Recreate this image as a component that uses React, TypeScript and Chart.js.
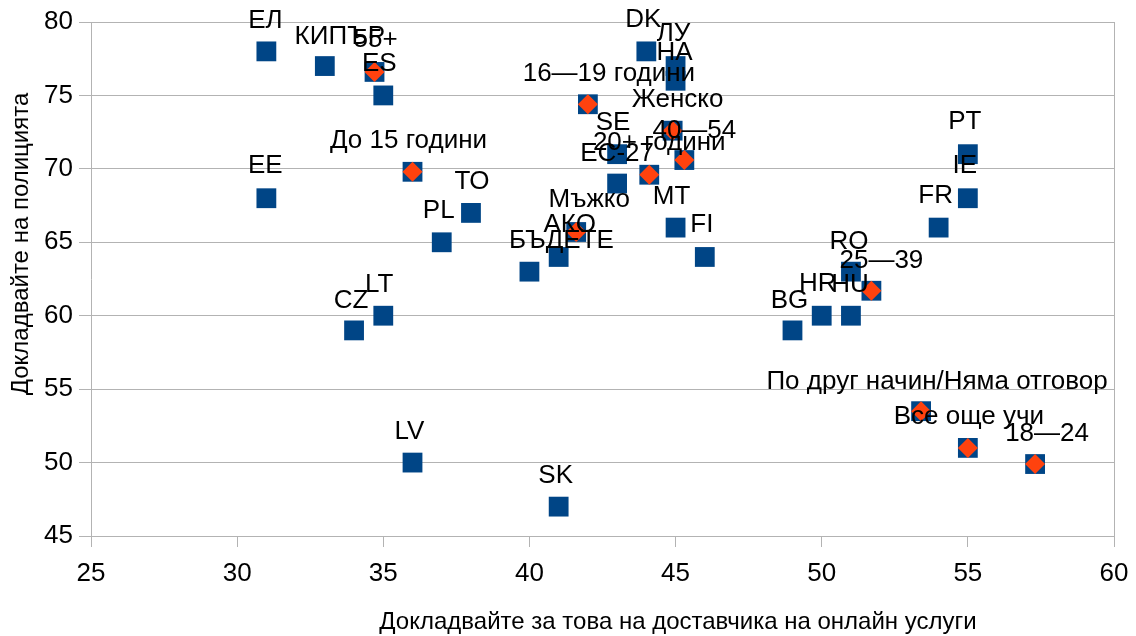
import React, { useEffect, useRef } from 'react';
import { Chart, registerables } from 'chart.js';

Chart.register(...registerables);

// Countries (blue squares)
const countryLabels = ['ЕЛ', 'КИПЪР', 'ES', 'DK', 'ЛУ', 'НА', 'EE', 'PL', 'ТО', 'CZ', 'LT', 'LV', 'SK', 'АКО', 'БЪДЕТЕ', 'SE', 'ЕС-27', 'MT', 'FI', 'BG', 'HR', 'HU', 'RO', 'FR', 'IE', 'PT'];
const countryX = [31, 33, 35, 44, 45, 45, 31, 37, 38, 34, 35, 36, 41, 41, 40, 43, 43, 45, 46, 49, 50, 51, 51, 54, 55, 55];
const countryY = [78, 77, 75, 78, 77, 76, 68, 65, 67, 59, 60, 50, 47, 64, 63, 71, 69, 66, 64, 59, 60, 60, 63, 66, 68, 71];

// Socio-demographic groups (red diamonds)
const groupLabels = ['55+', '16—19 години', 'Женско', 'До 15 години', '40—54', '20+ години', 'Мъжко', '25—39', 'По друг начин/Няма отговор', 'Все още учи', '18—24'];
const groupX = [34.7, 42.0, 44.9, 36.0, 45.3, 44.1, 41.6, 51.7, 53.4, 55.0, 57.3];
const groupY = [76.6, 74.4, 72.6, 69.8, 70.6, 69.6, 65.7, 61.7, 53.5, 51.0, 49.9];

// Axis ticks and titles
const xTickValues = [25, 30, 35, 40, 45, 50, 55, 60];
const yTickValues = [45, 50, 55, 60, 65, 70, 75, 80];
const xTitle = 'Докладвайте за това на доставчика на онлайн услуги';
const yTitle = 'Докладвайте на полицията';

// Label nudges (pixels, relative to the marker)
const countryLabelDx = [-1, 15, -4, -3, -2, -1, -1, -3, 1, -3, -4, -3, -3, 11, 32, -4, 0, -4, -3, -3, -4, -1, -2, -3, -3, -3];
const countryLabelDy = [-31, -29, -32, -32, -32, -28, -32, -31, -31, -30, -31, -31, -31, -32, -31, -31, -30, -31, -32, -30, -32, -31, -30, -32, -32, -32];
const groupLabelDx = [1, 21, 5, -4, 10, 10, 13, 10, 16, 1, 12];
const groupLabelDy = [-32, -30, -31, -31, -29, -32, -32, -30, -29, -31, -30];

const BLUE = '#004586';
const RED = '#ff420e';
const GRID = '#b3b3b3';
const FONT = '"Liberation Sans", Arial, sans-serif';

const labelPlugin = {
  id: 'pointLabelsAndTitles',
  afterDatasetsDraw(chart: any) {
    const ctx = chart.ctx;
    ctx.save();
    ctx.fillStyle = '#000';
    ctx.textAlign = 'center';
    ctx.textBaseline = 'middle';
    ctx.font = `26px ${FONT}`;
    chart.data.datasets.forEach((ds: any, di: number) => {
      if (!ds.pointLabels) return;
      const meta = chart.getDatasetMeta(di);
      meta.data.forEach((el: any, i: number) => {
        ctx.fillText(ds.pointLabels[i], el.x + ds.labelDx[i], el.y + ds.labelDy[i]);
      });
    });
    ctx.font = `24px ${FONT}`;
    ctx.fillText(xTitle, 678, 622);
    ctx.translate(21, 244);
    ctx.rotate(-Math.PI / 2);
    ctx.fillText(yTitle, 0, 0);
    ctx.restore();
  },
};

export default function App() {
  const canvasRef = useRef<HTMLCanvasElement | null>(null);

  useEffect(() => {
    if (!canvasRef.current) return;
    const chart = new Chart(canvasRef.current, {
      type: 'scatter',
      data: {
        datasets: [
          {
            label: 'groups',
            data: groupX.map((x, i) => ({ x, y: groupY[i] })),
            pointStyle: 'rectRot',
            pointRadius: 10,
            pointHoverRadius: 10,
            backgroundColor: RED,
            borderColor: RED,
            borderWidth: 0,
            order: 0,
            pointLabels: groupLabels,
            labelDx: groupLabelDx,
            labelDy: groupLabelDy,
          } as any,
          {
            label: 'groupsBase',
            data: groupX.map((x, i) => ({ x, y: groupY[i] })),
            pointStyle: 'rect',
            pointRadius: 14,
            pointHoverRadius: 14,
            backgroundColor: BLUE,
            borderColor: BLUE,
            borderWidth: 0,
            order: 1,
          },
          {
            label: 'countries',
            data: countryX.map((x, i) => ({ x, y: countryY[i] })),
            pointStyle: 'rect',
            pointRadius: 14,
            pointHoverRadius: 14,
            backgroundColor: BLUE,
            borderColor: BLUE,
            borderWidth: 0,
            order: 2,
            pointLabels: countryLabels,
            labelDx: countryLabelDx,
            labelDy: countryLabelDy,
          } as any,
        ],
      },
      options: {
        animation: false,
        responsive: false,
        maintainAspectRatio: false,
        layout: { padding: { top: 22, right: 22, left: 0, bottom: 0 } },
        plugins: { legend: { display: false }, tooltip: { enabled: false } },
        scales: {
          x: {
            type: 'linear',
            min: 25,
            max: 60,
            afterBuildTicks: (scale: any) => {
              scale.ticks = xTickValues.map((v) => ({ value: v }));
            },
            afterFit: (scale: any) => {
              scale.height = 100;
              scale.paddingLeft = 0;
              scale.paddingRight = 0;
            },
            ticks: { color: '#000', font: { family: FONT, size: 26 }, padding: 11 },
            grid: {
              color: (c: any) => (c.tick && c.tick.value === 60 ? GRID : 'rgba(0,0,0,0)'),
              tickColor: GRID,
              tickLength: 11,
              lineWidth: 1,
            },
            border: { display: true, color: GRID, width: 1 },
          },
          y: {
            type: 'linear',
            min: 45,
            max: 80,
            afterBuildTicks: (scale: any) => {
              scale.ticks = yTickValues.map((v) => ({ value: v }));
            },
            afterFit: (scale: any) => {
              scale.width = 91;
              scale.paddingTop = 0;
              scale.paddingBottom = 0;
            },
            ticks: { color: '#000', font: { family: FONT, size: 26 }, padding: 6 },
            grid: { color: GRID, tickColor: GRID, tickLength: 12, lineWidth: 1 },
            border: { display: true, color: GRID, width: 1 },
          },
        },
      },
      plugins: [labelPlugin],
    } as any);
    return () => chart.destroy();
  }, []);

  return (
    <div style={{ position: 'absolute', left: 0, top: 0, width: 1136, height: 636, background: '#fff' }}>
      <canvas ref={canvasRef} width={1136} height={636} style={{ width: 1136, height: 636, display: 'block' }} />
    </div>
  );
}
